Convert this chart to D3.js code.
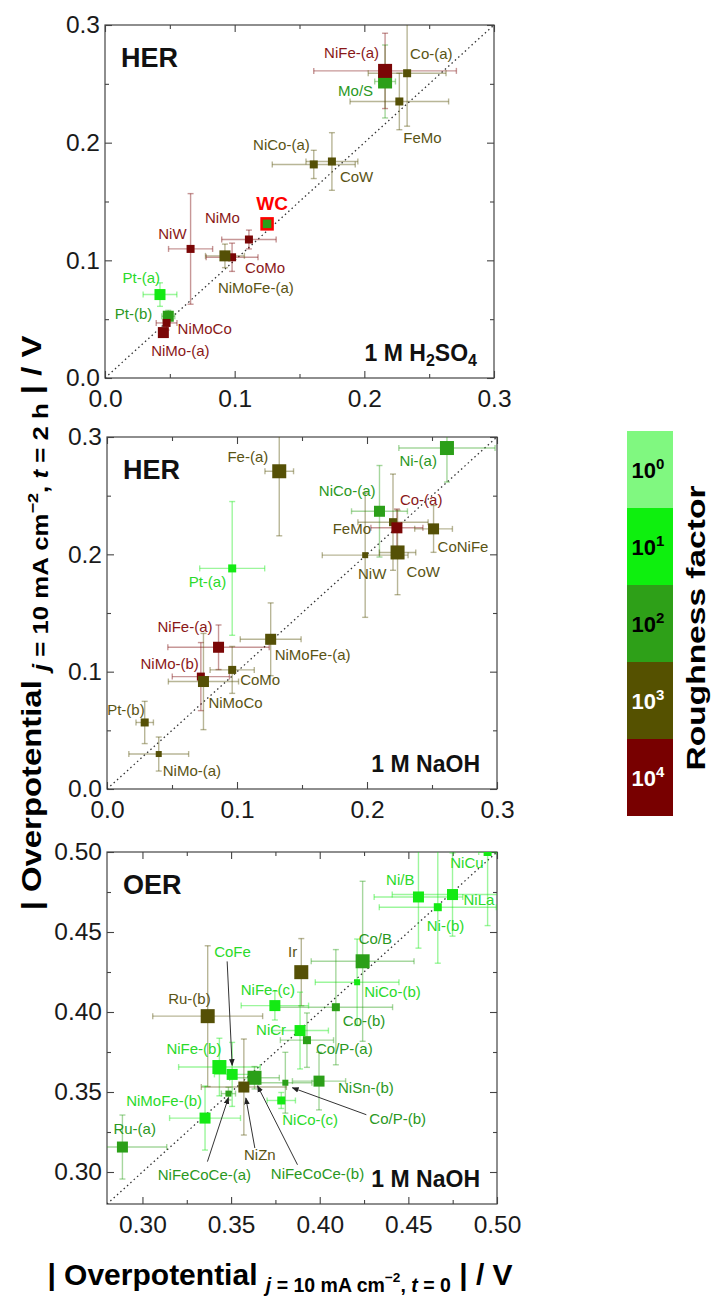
<!DOCTYPE html>
<html>
<head>
<meta charset="utf-8">
<script src="https://cdn.jsdelivr.net/npm/d3@7/dist/d3.min.js"></script>
<style>
  body { margin: 0; background: #fff; }
  svg { display: block; font-family: 'Liberation Sans', Arial, sans-serif; }
</style>
</head>
<body>
<svg id="chart" width="714" height="1297"></svg>
<script>
// ---- data: HER in 1 M H2SO4 ----
const herAcidNames = ['Mo/S', 'NiFe-(a)', 'Co-(a)', 'FeMo', 'NiCo-(a)', 'CoW', 'WC', 'NiMo', 'CoMo',
    'NiMoFe-(a)', 'NiW', 'Pt-(a)', 'Pt-(b)', 'NiMoCo', 'NiMo-(a)'];
const herAcidX = [0.216, 0.216, 0.233, 0.227, 0.161, 0.175, 0.125, 0.111, 0.098, 0.0925, 0.066, 0.0424, 0.0488, 0.0475, 0.045];
const herAcidY = [0.252, 0.261, 0.259, 0.235, 0.1815, 0.184, 0.131, 0.1177, 0.1026, 0.1038, 0.1097, 0.0709, 0.0525, 0.0468, 0.0386];
const herAcidXErr = [0.008, 0.055, 0.03, 0.038, 0.032, 0.02, 0, 0.021, 0.02, 0.015, 0.017, 0.013, 0.005, 0.008, 0.003];
const herAcidYErr = [0.031, 0.032, 0.045, 0.024, 0.012, 0.0245, 0, 0.008, 0.012, 0.01, 0.047, 0.01, 0.005, 0.006, 0.003];
const herAcidRough = [2, 4, 3, 3, 3, 3, 2, 4, 4, 3, 4, 1, 2, 4, 4];
const herAcidSize = [4, 4, 2, 2, 2, 2, 3, 2, 2, 3, 2, 3, 3, 2, 3];

// ---- data: HER in 1 M NaOH ----
const herBaseNames = ['Fe-(a)', 'Ni-(a)', 'NiCo-(a)', 'FeMo', 'Co-(a)', 'CoNiFe', 'NiW', 'CoW', 'Pt-(a)',
    'NiMoFe-(a)', 'NiFe-(a)', 'CoMo', 'NiMo-(b)', 'NiMoCo', 'Pt-(b)', 'NiMo-(a)'];
const herBaseX = [0.1325, 0.2615, 0.2096, 0.22, 0.223, 0.2512, 0.1986, 0.2235, 0.0963, 0.1259, 0.0858, 0.0963, 0.0722, 0.0742, 0.029, 0.0398];
const herBaseY = [0.2708, 0.2906, 0.2367, 0.2274, 0.2226, 0.2217, 0.1993, 0.2016, 0.188, 0.1276, 0.1208, 0.1015, 0.0958, 0.0916, 0.0567, 0.0298];
const herBaseXErr = [0.011, 0.037, 0.0215, 0.027, 0.02, 0.0145, 0.033, 0.014, 0.025, 0.0234, 0.039, 0.017, 0.022, 0.027, 0.0067, 0.023];
const herBaseYErr = [0.055, 0.029, 0.039, 0.041, 0.016, 0.02, 0.053, 0.036, 0.057, 0.031, 0.019, 0.02, 0.029, 0.041, 0.018, 0.0145];
const herBaseRough = [3, 2, 2, 3, 4, 3, 3, 3, 1, 3, 4, 3, 4, 3, 3, 3];
const herBaseSize = [4, 4, 3, 2, 3, 3, 1, 4, 2, 3, 3, 2, 2, 3, 2, 1];

// ---- data: OER in 1 M NaOH ----
const oerNames = ['NiCu', 'Ni/B', 'NiLa', 'Ni-(b)', 'Co/B', 'NiCo-(b)', 'Ir', 'Co-(b)', 'NiFe-(c)', 'Ru-(b)',
    'NiCr', 'Co/P-(a)', 'NiFe-(b)', 'CoFe', 'NiFeCoCe-(a)', 'NiFeCoCe-(b)', 'NiZn', 'Co/P-(b)', 'NiSn-(b)',
    'NiCo-(c)', 'NiMoFe-(b)', 'Ru-(a)'];
const oerX = [0.4947, 0.4557, 0.4749, 0.4666, 0.4242, 0.4211, 0.3896, 0.4091, 0.3747, 0.3368, 0.3889, 0.3928,
    0.3434, 0.3506, 0.3485, 0.3632, 0.3572, 0.3806, 0.3996, 0.3783, 0.3353, 0.2887];
const oerY = [0.500, 0.4719, 0.4734, 0.4655, 0.4317, 0.4186, 0.4249, 0.403, 0.404, 0.3974, 0.3884, 0.3824,
    0.3656, 0.361, 0.349, 0.3589, 0.3531, 0.3558, 0.3568, 0.3447, 0.3337, 0.3156];
const oerXErr = [0.005, 0.025, 0.034, 0.033, 0.029, 0.0236, 0.003, 0.032, 0.019, 0.031, 0.016, 0.015, 0.023,
    0.01, 0.004, 0.014, 0.024, 0.015, 0.015, 0.008, 0.02, 0.025];
const oerYErr = [0.046, 0.032, 0.026, 0.035, 0.05, 0.027, 0.021, 0.036, 0.009, 0.044, 0.024, 0.017, 0.018,
    0.02, 0.004, 0.007, 0.03, 0.019, 0.018, 0.005, 0.02, 0.02];
const oerRough = [1, 1, 1, 1, 2, 1, 3, 2, 1, 3, 1, 2, 1, 1, 2, 2, 3, 2, 2, 1, 1, 2];
const oerSize = [2, 3, 3, 2, 4, 1, 4, 2, 3, 4, 3, 2, 4, 3, 1, 4, 3, 1, 3, 2, 3, 3];

// ---- ticks and legend ----
const herTicks = [0, 0.1, 0.2, 0.3];
const herTickLabels = ['0.0', '0.1', '0.2', '0.3'];
const herMinor = [0.05, 0.15, 0.25];
const oerTicks = [0.30, 0.35, 0.40, 0.45, 0.50];
const oerTickLabels = ['0.30', '0.35', '0.40', '0.45', '0.50'];
const oerMinor = [0.325, 0.375, 0.425, 0.475];
const roughExponents = [0, 1, 2, 3, 4];

// ---- styles ----
const markerColor = d3.scaleOrdinal().domain(roughExponents)
    .range(['#80f880', '#14ea14', '#2b9f18', '#555006', '#7a0606']);
const textColor = d3.scaleOrdinal().domain(roughExponents)
    .range(['#60d060', '#2ada2a', '#2a981e', '#5a5414', '#8a1818']);
const legendColor = d3.scaleOrdinal().domain(roughExponents)
    .range(['#80f880', '#0ef00e', '#2ea018', '#555100', '#780000']);
const markerSize = d3.scaleOrdinal().domain([1, 2, 3, 4]).range([6, 8, 11, 14]);

// label placement: [dx, dy, anchor] from the marker centre, in px
const herAcidLabels = {
    'NiFe-(a)': [-6, -18, 'end'], 'Co-(a)': [3, -20, 'start'], 'Mo/S': [-12, 9, 'end'],
    'FeMo': [4, 36, 'start'], 'NiCo-(a)': [-4, -20, 'end'], 'CoW': [8, 15, 'start'],
    'NiMo': [-9, -22, 'end'], 'NiW': [-4, -15, 'end'], 'CoMo': [13, 10, 'start'],
    'NiMoFe-(a)': [-7, 32, 'start'], 'Pt-(a)': [0, -17, 'end'], 'Pt-(b)': [-16, -3, 'end'],
    'NiMoCo': [11, 6, 'start'], 'NiMo-(a)': [17, 18, 'middle'],
};
const herBaseLabels = {
    'Fe-(a)': [-11, -15, 'end'], 'Ni-(a)': [-10, 12, 'end'], 'NiCo-(a)': [-4, -21, 'end'],
    'Co-(a)': [3, -28, 'start'], 'FeMo': [-22, 6, 'end'], 'CoNiFe': [4, 18, 'start'],
    'NiW': [7, 18, 'middle'], 'CoW': [9, 19, 'start'], 'Pt-(a)': [-6, 13, 'end'],
    'NiFe-(a)': [-6, -21, 'end'], 'NiMoFe-(a)': [4, 15, 'start'], 'NiMo-(b)': [-2, -13, 'end'],
    'CoMo': [8, 10, 'start'], 'NiMoCo': [5, 21, 'start'], 'Pt-(b)': [0, -13, 'end'],
    'NiMo-(a)': [4, 16, 'start'],
};
const oerLabels = {
    'NiCu': [-4, 10, 'end'], 'Ni/B': [-4, -17, 'end'], 'NiLa': [11, 5, 'start'],
    'Ni-(b)': [-11, 18, 'start'], 'Co/B': [-4, -23, 'start'], 'Ir': [-4, -21, 'end'],
    'CoFe': [-18, -123, 'start'], 'NiCo-(b)': [7, 9, 'start'], 'NiFe-(c)': [20, -16, 'end'],
    'Ru-(b)': [3, -18, 'end'], 'Co-(b)': [7, 13, 'start'], 'NiCr': [-14, -1, 'end'],
    'Co/P-(a)': [9, 8, 'start'], 'NiFe-(b)': [2, -19, 'end'], 'NiSn-(b)': [19, 6, 'start'],
    'NiMoFe-(b)': [-3, -18, 'end'], 'NiCo-(c)': [1, 19, 'start'], 'Co/P-(b)': [84, 36, 'start'],
    'Ru-(a)': [-9, -19, 'start'], 'NiZn': [16, 67, 'middle'], 'NiFeCoCe-(a)': [-24, 81, 'middle'],
    'NiFeCoCe-(b)': [63, 96, 'middle'],
};
// arrows: [startDx, startDy, endDx, endDy] from the marker centre
const oerArrows = {
    'CoFe': [-5, -113, 0, -9], 'Co/P-(b)': [81, 32, 7, 5], 'NiZn': [11, 61, 2, 11],
    'NiFeCoCe-(a)': [-21, 68, 0, 4], 'NiFeCoCe-(b)': [43, 87, 3, 8],
};

const panels = [
    { names: herAcidNames, x: herAcidX, y: herAcidY, xe: herAcidXErr, ye: herAcidYErr, r: herAcidRough,
        s: herAcidSize, labels: herAcidLabels, arrows: {}, domain: [0, 0.3], ticks: herTicks,
        tickLabels: herTickLabels, minor: herMinor, title: 'HER', electrolyte: 'acid',
        left: 105, right: 494, top: 25, bottom: 378 },
    { names: herBaseNames, x: herBaseX, y: herBaseY, xe: herBaseXErr, ye: herBaseYErr, r: herBaseRough,
        s: herBaseSize, labels: herBaseLabels, arrows: {}, domain: [0, 0.3], ticks: herTicks,
        tickLabels: herTickLabels, minor: herMinor, title: 'HER', electrolyte: 'base',
        left: 107, right: 497, top: 437, bottom: 789 },
    { names: oerNames, x: oerX, y: oerY, xe: oerXErr, ye: oerYErr, r: oerRough,
        s: oerSize, labels: oerLabels, arrows: oerArrows, domain: [0.28, 0.50], ticks: oerTicks,
        tickLabels: oerTickLabels, minor: oerMinor, title: 'OER', electrolyte: 'base',
        left: 107, right: 497, top: 852, bottom: 1204 },
];

const svg = d3.select('#chart');
const defs = svg.append('defs');
defs.append('marker')
    .attr('id', 'arrowhead')
    .attr('viewBox', '0 0 10 10')
    .attr('refX', 9).attr('refY', 5)
    .attr('markerWidth', 7).attr('markerHeight', 7)
    .attr('orient', 'auto')
    .append('path')
    .attr('d', 'M0,1 L10,5 L0,9 Z')
    .attr('fill', '#222');

const axisColor = '#444';

function styleAxis(g) {
    g.select('.domain').remove();
    g.selectAll('.tick line').attr('stroke', axisColor).attr('stroke-width', 1.1);
    g.selectAll('.tick text')
        .attr('fill', '#1a1a1a')
        .attr('font-size', 24.5)
        .attr('font-family', "'Liberation Sans', Arial, sans-serif");
}

function drawPanel(p, idx) {
    const x = d3.scaleLinear().domain(p.domain).range([p.left, p.right]);
    const y = d3.scaleLinear().domain(p.domain).range([p.bottom, p.top]);
    const g = svg.append('g').attr('class', 'panel');

    const clipId = `clip-${ idx }`;
    defs.append('clipPath').attr('id', clipId)
        .append('rect')
        .attr('x', p.left).attr('y', p.top)
        .attr('width', p.right - p.left).attr('height', p.bottom - p.top);

    // axes, ticks pointing inward on all four sides
    const fmt = (d, i) => p.tickLabels[i];
    g.append('g').attr('transform', `translate(0,${ p.bottom })`)
        .call(d3.axisBottom(x).tickValues(p.ticks).tickSize(-7).tickPadding(12).tickFormat(fmt))
        .call(styleAxis);
    g.append('g').attr('transform', `translate(${ p.left },0)`)
        .call(d3.axisLeft(y).tickValues(p.ticks).tickSize(-7).tickPadding(5).tickFormat(fmt))
        .call(styleAxis);
    g.append('g').attr('transform', `translate(0,${ p.top })`)
        .call(d3.axisTop(x).tickValues(p.ticks).tickSize(-7).tickFormat(''))
        .call(styleAxis);
    g.append('g').attr('transform', `translate(${ p.right },0)`)
        .call(d3.axisRight(y).tickValues(p.ticks).tickSize(-7).tickFormat(''))
        .call(styleAxis);
    // minor ticks
    g.append('g').attr('transform', `translate(0,${ p.bottom })`)
        .call(d3.axisBottom(x).tickValues(p.minor).tickSize(-4).tickFormat('')).call(styleAxis);
    g.append('g').attr('transform', `translate(0,${ p.top })`)
        .call(d3.axisTop(x).tickValues(p.minor).tickSize(-4).tickFormat('')).call(styleAxis);
    g.append('g').attr('transform', `translate(${ p.left },0)`)
        .call(d3.axisLeft(y).tickValues(p.minor).tickSize(-4).tickFormat('')).call(styleAxis);
    g.append('g').attr('transform', `translate(${ p.right },0)`)
        .call(d3.axisRight(y).tickValues(p.minor).tickSize(-4).tickFormat('')).call(styleAxis);

    g.append('rect')
        .attr('x', p.left).attr('y', p.top)
        .attr('width', p.right - p.left).attr('height', p.bottom - p.top)
        .attr('fill', 'none').attr('stroke', axisColor).attr('stroke-width', 1.2);

    const plot = g.append('g').attr('clip-path', `url(#${ clipId })`);

    // y = x guide
    plot.append('line')
        .attr('x1', x(p.domain[0])).attr('y1', y(p.domain[0]))
        .attr('x2', x(p.domain[1])).attr('y2', y(p.domain[1]))
        .attr('stroke', '#333').attr('stroke-width', 1.3).attr('stroke-dasharray', '1.5,3');

    const data = p.names.map((name, i) => ({
        name, x: p.x[i], y: p.y[i], xe: p.xe[i], ye: p.ye[i], r: p.r[i], s: p.s[i],
    }));

    // error bars
    const cap = 3;
    const eb = plot.append('g').attr('class', 'errorbars')
        .attr('stroke-width', 1.4).attr('stroke-opacity', 0.42);
    data.forEach((d) => {
        const c = markerColor(d.r);
        const gx = eb.append('g').attr('stroke', c);
        if (d.xe > 0) {
            const x0 = x(d.x - d.xe);
            const x1 = x(d.x + d.xe);
            const yy = y(d.y);
            gx.append('line').attr('x1', x0).attr('x2', x1).attr('y1', yy).attr('y2', yy);
            gx.append('line').attr('x1', x0).attr('x2', x0).attr('y1', yy - cap).attr('y2', yy + cap);
            gx.append('line').attr('x1', x1).attr('x2', x1).attr('y1', yy - cap).attr('y2', yy + cap);
        }
        if (d.ye > 0) {
            const y0 = y(d.y - d.ye);
            const y1 = y(d.y + d.ye);
            const xx = x(d.x);
            gx.append('line').attr('x1', xx).attr('x2', xx).attr('y1', y0).attr('y2', y1);
            gx.append('line').attr('x1', xx - cap).attr('x2', xx + cap).attr('y1', y0).attr('y2', y0);
            gx.append('line').attr('x1', xx - cap).attr('x2', xx + cap).attr('y1', y1).attr('y2', y1);
        }
    });

    // markers
    plot.append('g').selectAll('rect')
        .data(data)
        .join('rect')
        .attr('x', (d) => x(d.x) - markerSize(d.s) / 2)
        .attr('y', (d) => y(d.y) - markerSize(d.s) / 2)
        .attr('width', (d) => markerSize(d.s))
        .attr('height', (d) => markerSize(d.s))
        .attr('fill', (d) => markerColor(d.r))
        .attr('stroke', (d) => (d.name === 'WC' ? '#ff0000' : 'none'))
        .attr('stroke-width', (d) => (d.name === 'WC' ? 2.5 : 0));

    // arrows
    data.filter((d) => p.arrows[d.name]).forEach((d) => {
        const a = p.arrows[d.name];
        g.append('line')
            .attr('x1', x(d.x) + a[0]).attr('y1', y(d.y) + a[1])
            .attr('x2', x(d.x) + a[2]).attr('y2', y(d.y) + a[3])
            .attr('stroke', '#333').attr('stroke-width', 1)
            .attr('marker-end', 'url(#arrowhead)');
    });

    // point labels
    g.append('g').selectAll('text')
        .data(data.filter((d) => p.labels[d.name] || d.name === 'WC'))
        .join('text')
        .attr('x', (d) => x(d.x) + (d.name === 'WC' ? 5 : p.labels[d.name][0]))
        .attr('y', (d) => y(d.y) + (d.name === 'WC' ? -20 : p.labels[d.name][1]))
        .attr('text-anchor', (d) => (d.name === 'WC' ? 'middle' : p.labels[d.name][2]))
        .attr('dominant-baseline', 'central')
        .attr('font-size', (d) => (d.name === 'WC' ? 19 : 15))
        .attr('font-weight', (d) => (d.name === 'WC' ? 'bold' : 'normal'))
        .attr('fill', (d) => (d.name === 'WC' ? '#ff0000' : textColor(d.r)))
        .text((d) => d.name);

    // panel title
    g.append('text')
        .attr('x', p.left + 16).attr('y', p.top + 42)
        .attr('font-size', 27).attr('font-weight', 'bold').attr('fill', '#111')
        .text(p.title);

    // electrolyte
    const el = g.append('text')
        .attr('x', p.right - 17).attr('y', p.bottom - 17)
        .attr('text-anchor', 'end')
        .attr('font-size', 23).attr('font-weight', 'bold').attr('fill', '#111');
    if (p.electrolyte === 'acid') {
        el.append('tspan').text('1 M H');
        el.append('tspan').attr('font-size', 16).attr('dy', 5).text('2');
        el.append('tspan').attr('dy', -5).text('SO');
        el.append('tspan').attr('font-size', 16).attr('dy', 5).text('4');
    } else {
        el.text('1 M NaOH');
    }
}

panels.forEach(drawPanel);

// ---- axis titles ----
function axisTitle(text, tLabel, mainSize, subSize) {
    text.style('white-space', 'pre').attr('font-weight', 'bold').attr('fill', '#000');
    text.append('tspan').attr('font-size', mainSize).text('| Overpotential ');
    text.append('tspan').attr('font-size', subSize).attr('dy', 7).attr('font-style', 'italic').text('j');
    text.append('tspan').attr('font-size', subSize).text(' = 10 mA cm');
    text.append('tspan').attr('font-size', subSize * 0.7).attr('dy', -10).text('\u22122');
    text.append('tspan').attr('font-size', subSize).attr('dy', 10).text(', ');
    text.append('tspan').attr('font-size', subSize).attr('font-style', 'italic').text('t');
    text.append('tspan').attr('font-size', subSize).text(` = ${ tLabel }`);
    text.append('tspan').attr('font-size', mainSize).attr('dy', -7).text(' | / V');
}

const xTitle = svg.append('text')
    .attr('x', 280).attr('y', 1285).attr('text-anchor', 'middle');
axisTitle(xTitle, '0', 30, 19.5);

const yTitle = svg.append('text')
    .attr('x', 0).attr('y', 0).attr('text-anchor', 'middle');
axisTitle(yTitle, '2 h', 28, 22);
const yLen = yTitle.node().getComputedTextLength();
yTitle.attr('transform', `translate(41,623) rotate(-90) scale(${ 575 / yLen },1)`);

// ---- roughness legend ----
const band = d3.scaleBand().domain(roughExponents).range([431, 816]);
const legend = svg.append('g').attr('class', 'legend');
legend.selectAll('rect')
    .data(roughExponents)
    .join('rect')
    .attr('x', 627).attr('width', 46)
    .attr('y', (d) => band(d)).attr('height', band.bandwidth())
    .attr('fill', (d) => legendColor(d));
const lt = legend.selectAll('text.exp')
    .data(roughExponents)
    .join('text')
    .attr('class', 'exp')
    .attr('x', 648)
    .attr('y', (d) => band(d) + band.bandwidth() / 2 + 8)
    .attr('text-anchor', 'middle')
    .attr('font-size', 22).attr('font-weight', 'bold')
    .attr('fill', (d) => (d >= 3 ? '#fff' : '#000'));
lt.append('tspan').text('10');
lt.append('tspan').attr('font-size', 15).attr('dy', -9).text((d) => d);

const rTitle = legend.append('text')
    .attr('x', 0).attr('y', 0).attr('text-anchor', 'middle')
    .attr('font-size', 26).attr('font-weight', 'bold').attr('fill', '#000')
    .text('Roughness factor');
const rLen = rTitle.node().getComputedTextLength();
rTitle.attr('transform', `translate(705,628) rotate(-90) scale(${ 285 / rLen },1)`);
</script>
</body>
</html>
